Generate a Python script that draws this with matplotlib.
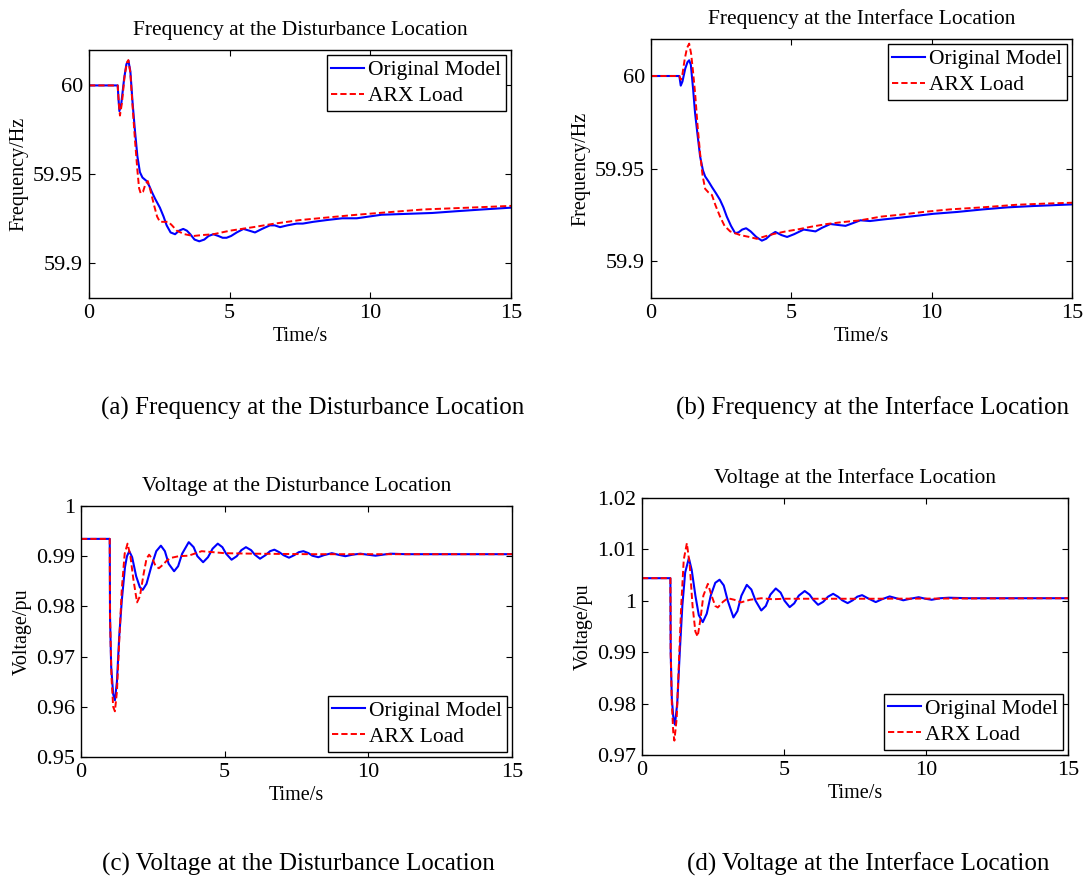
import matplotlib
matplotlib.use("Agg")
import matplotlib.pyplot as plt

plt.rcParams['font.family'] = ['Liberation Serif', 'DejaVu Serif']
plt.rcParams['mathtext.fontset'] = 'stix'

# ---------------- data ----------------
# (a) Frequency at the Disturbance Location
t_a_orig = [0, 1.02, 1.05, 1.08, 1.15, 1.25, 1.33, 1.40, 1.47, 1.55, 1.63, 1.72, 1.81, 1.90,
            2.05, 2.15, 2.23, 2.35, 2.52, 2.65, 2.76, 2.90, 3.06, 3.20, 3.35, 3.48, 3.60, 3.75,
            3.92, 4.10, 4.25, 4.42, 4.60, 4.75, 4.89, 5.05, 5.25, 5.49, 5.70, 5.90, 6.15, 6.43,
            6.60, 6.79, 7.05, 7.38, 7.60, 7.97, 8.45, 9.00, 9.52, 10.4, 11.3, 12.2, 13.07, 14.0, 15.0]
f_a_orig = [60.0, 60.0, 59.992, 59.9855, 59.990, 60.004, 60.012, 60.014, 60.008, 59.990, 59.975,
            59.960, 59.951, 59.948, 59.946, 59.943, 59.940, 59.936, 59.931, 59.926, 59.921, 59.917,
            59.916, 59.918, 59.919, 59.918, 59.916, 59.913, 59.912, 59.913, 59.915, 59.916, 59.915,
            59.914, 59.914, 59.915, 59.917, 59.919, 59.918, 59.917, 59.919, 59.921, 59.921, 59.920,
            59.921, 59.922, 59.922, 59.923, 59.924, 59.925, 59.925, 59.927, 59.9275, 59.928, 59.929,
            59.930, 59.931]
t_a_arx = [0, 1.02, 1.06, 1.10, 1.17, 1.27, 1.35, 1.40, 1.47, 1.55, 1.63, 1.72, 1.78, 1.84, 1.92,
           2.00, 2.09, 2.18, 2.31, 2.42, 2.52, 2.65, 2.82, 2.95, 3.12, 3.40, 3.71, 4.00, 4.42, 5.01,
           5.84, 6.60, 7.50, 8.50, 9.52, 10.7, 11.9, 13.5, 15.0]
f_a_arx = [60.0, 60.0, 59.990, 59.983, 59.990, 60.006, 60.013, 60.0143, 60.007, 59.988, 59.970,
           59.952, 59.942, 59.939, 59.940, 59.944, 59.946, 59.941, 59.9325, 59.926, 59.923, 59.923,
           59.923, 59.921, 59.918, 59.916, 59.915, 59.9155, 59.916, 59.918, 59.920, 59.922, 59.924,
           59.9255, 59.927, 59.9285, 59.930, 59.931, 59.932]

# (b) Frequency at the Interface Location
t_b_orig = [0, 1.01, 1.06, 1.12, 1.22, 1.30, 1.36, 1.42, 1.50, 1.57, 1.66, 1.75, 1.85, 1.93, 2.05,
            2.17, 2.32, 2.46, 2.58, 2.70, 2.85, 3.00, 3.12, 3.25, 3.39, 3.55, 3.75, 3.95, 4.10, 4.25,
            4.43, 4.65, 4.85, 5.10, 5.44, 5.65, 5.86, 6.10, 6.39, 6.65, 6.93, 7.20, 7.46, 7.80, 8.30,
            8.87, 9.50, 10.05, 10.9, 11.83, 12.7, 13.6, 15.0]
f_b_orig = [60.0, 60.0, 59.9948, 59.997, 60.004, 60.0075, 60.0085, 60.006, 59.993, 59.980, 59.968,
            59.9565, 59.949, 59.9457, 59.943, 59.940, 59.9365, 59.933, 59.929, 59.924, 59.919, 59.915,
            59.9155, 59.917, 59.9177, 59.916, 59.913, 59.911, 59.912, 59.914, 59.9157, 59.914, 59.913,
            59.9145, 59.917, 59.9165, 59.916, 59.918, 59.920, 59.9195, 59.919, 59.9205, 59.922,
            59.9216, 59.9225, 59.9234, 59.9245, 59.9255, 59.9265, 59.9279, 59.929, 59.9297, 59.9306]
t_b_arx = [0, 1.01, 1.06, 1.12, 1.20, 1.28, 1.36, 1.43, 1.50, 1.57, 1.66, 1.75, 1.84, 1.93, 2.05,
           2.17, 2.30, 2.46, 2.62, 2.82, 3.00, 3.18, 3.50, 3.77, 4.10, 4.37, 4.80, 5.20, 5.70, 6.27,
           6.80, 7.46, 8.20, 8.87, 9.70, 10.65, 11.8, 13.03, 14.0, 15.0]
f_b_arx = [60.0, 60.0, 59.998, 60.001, 60.009, 60.015, 60.0175, 60.012, 60.002, 59.991, 59.973,
           59.958, 59.946, 59.939, 59.937, 59.9357, 59.930, 59.924, 59.919, 59.916, 59.915, 59.914,
           59.913, 59.912, 59.9135, 59.9146, 59.916, 59.917, 59.9185, 59.920, 59.921, 59.922, 59.924,
           59.925, 59.9265, 59.9279, 59.929, 59.9304, 59.931, 59.9315]

# (c) Voltage at the Disturbance Location
t_c_orig = [0, 1.0, 1.01, 1.05, 1.12, 1.18, 1.25, 1.33, 1.42, 1.53, 1.60, 1.68, 1.78, 1.92, 2.05,
            2.15, 2.28, 2.45, 2.62, 2.78, 2.92, 3.05, 3.24, 3.38, 3.52, 3.75, 3.92, 4.05, 4.25, 4.42,
            4.58, 4.76, 4.92, 5.05, 5.24, 5.42, 5.58, 5.74, 5.92, 6.05, 6.23, 6.42, 6.58, 6.73, 6.90,
            7.05, 7.24, 7.42, 7.58, 7.74, 7.92, 8.05, 8.26, 8.45, 8.73, 8.95, 9.20, 9.45, 9.72, 9.98,
            10.25, 10.5, 10.77, 11.3, 12.0, 13.0, 14.0, 15.0]
v_c_orig = [0.99345, 0.99345, 0.978, 0.968, 0.9625, 0.9613, 0.9650, 0.9740, 0.9812, 0.9878, 0.9900,
            0.9910, 0.9898, 0.9860, 0.9838, 0.9833, 0.9845, 0.9880, 0.9910, 0.9921, 0.9910, 0.9885,
            0.9870, 0.9880, 0.9905, 0.9928, 0.9918, 0.9900, 0.9888, 0.9898, 0.9915, 0.9925, 0.9918,
            0.9905, 0.9893, 0.9900, 0.9912, 0.9918, 0.9912, 0.9903, 0.9895, 0.9902, 0.9910, 0.9913,
            0.9908, 0.9902, 0.9897, 0.9902, 0.9908, 0.9910, 0.9906, 0.9901, 0.9898, 0.9902, 0.9906,
            0.9903, 0.9900, 0.9903, 0.9905, 0.9903, 0.9901, 0.9903, 0.9905, 0.9904, 0.9904, 0.9904,
            0.9904, 0.9904]
t_c_arx = [0, 1.0, 1.01, 1.06, 1.12, 1.18, 1.25, 1.33, 1.42, 1.52, 1.62, 1.72, 1.82, 1.95, 2.05,
           2.18, 2.28, 2.37, 2.50, 2.60, 2.71, 2.85, 3.00, 3.16, 3.40, 3.74, 4.00, 4.20, 4.60, 5.00,
           6.00, 8.00, 15.0]
v_c_arx = [0.99345, 0.99345, 0.978, 0.966, 0.9600, 0.9591, 0.963, 0.973, 0.9835, 0.9905, 0.9925,
           0.9900, 0.9855, 0.9808, 0.9820, 0.9865, 0.9895, 0.9903, 0.9893, 0.9880, 0.9876, 0.9883,
           0.9892, 0.9897, 0.9900, 0.9901, 0.9906, 0.9910, 0.9908, 0.9906, 0.9905, 0.9904, 0.9904]

# (d) Voltage at the Interface Location
t_d_orig = [0, 1.0, 1.01, 1.05, 1.10, 1.16, 1.24, 1.33, 1.42, 1.52, 1.65, 1.75, 1.88, 2.00, 2.14,
            2.28, 2.42, 2.58, 2.73, 2.88, 3.02, 3.22, 3.36, 3.50, 3.69, 3.85, 4.00, 4.20, 4.36, 4.52,
            4.71, 4.88, 5.02, 5.20, 5.36, 5.52, 5.73, 5.90, 6.03, 6.20, 6.38, 6.55, 6.73, 6.90, 7.05,
            7.24, 7.42, 7.58, 7.75, 7.95, 8.23, 8.45, 8.72, 8.95, 9.20, 9.45, 9.74, 9.98, 10.2, 10.5,
            10.8, 11.5, 12.5, 13.5, 15.0]
v_d_orig = [1.0044, 1.0044, 0.990, 0.981, 0.9775, 0.9759, 0.9800, 0.9900, 0.9990, 1.0055, 1.0083,
            1.0060, 1.0010, 0.9972, 0.99585, 0.9975, 1.0010, 1.0035, 1.0041, 1.0030, 1.0000, 0.99676,
            0.9980, 1.0010, 1.0031, 1.0022, 1.0000, 0.99812, 0.9990, 1.0012, 1.0024, 1.0016, 1.0000,
            0.99877, 0.9995, 1.0010, 1.0019, 1.0012, 1.0002, 0.99922, 0.9998, 1.0008, 1.00136, 1.0008,
            1.0001, 0.99955, 1.0001, 1.0008, 1.0011, 1.0005, 0.99975, 1.0003, 1.00085, 1.0005, 1.0001,
            1.0004, 1.0007, 1.0004, 1.0002, 1.0005, 1.0006, 1.0005, 1.0005, 1.0005, 1.0005]
t_d_arx = [0, 1.0, 1.01, 1.05, 1.10, 1.14, 1.22, 1.30, 1.38, 1.47, 1.58, 1.68, 1.78, 1.88, 1.96,
           2.06, 2.16, 2.32, 2.45, 2.58, 2.67, 2.85, 3.02, 3.25, 3.49, 3.80, 4.20, 4.60, 5.00, 6.00,
           8.00, 15.0]
v_d_arx = [1.0044, 1.0044, 0.990, 0.980, 0.9745, 0.9728, 0.9770, 0.9880, 0.9990, 1.0080, 1.0112,
           1.0070, 0.9990, 0.9940, 0.99306, 0.9965, 1.0010, 1.0033, 1.0010, 0.9990, 0.9987, 0.9998,
           1.0005, 1.0002, 0.9997, 1.0002, 1.0005, 1.0003, 1.0004, 1.0004, 1.0004, 1.0005]

x_ticks = [0, 5, 10, 15]
freq_ticks = [59.9, 59.95, 60]
freq_labels = ['59.9', '59.95', '60']
vc_ticks = [0.95, 0.96, 0.97, 0.98, 0.99, 1.0]
vc_labels = ['0.95', '0.96', '0.97', '0.98', '0.99', '1']
vd_ticks = [0.97, 0.98, 0.99, 1.0, 1.01, 1.02]
vd_labels = ['0.97', '0.98', '0.99', '1', '1.01', '1.02']

titles = ['Frequency at the Disturbance Location', 'Frequency at the Interface Location',
          'Voltage at the Disturbance Location', 'Voltage at the Interface Location']
captions = ['(a) Frequency at the Disturbance Location', '(b) Frequency at the Interface Location',
            '(c) Voltage at the Disturbance Location', '(d) Voltage at the Interface Location']
legend_labels = ['Original Model', 'ARX Load']

# ---------------- figure ----------------
W, H = 1085, 882
fig = plt.figure(figsize=(W / 100, H / 100), dpi=100)


def px_axes(l, t, r, b):
    return fig.add_axes([l / W, 1 - b / H, (r - l) / W, (b - t) / H])


panels = [
    dict(box=(89, 50, 511, 298), t1=t_a_orig, y1=f_a_orig, t2=t_a_arx, y2=f_a_arx,
         ylim=(59.88, 60.02), yt=freq_ticks, yl=freq_labels, ylabel='Frequency/Hz', loc='upper right',
         cap=(313, 408)),
    dict(box=(651, 39, 1072, 298), t1=t_b_orig, y1=f_b_orig, t2=t_b_arx, y2=f_b_arx,
         ylim=(59.88, 60.02), yt=freq_ticks, yl=freq_labels, ylabel='Frequency/Hz', loc='upper right',
         cap=(872, 408)),
    dict(box=(81, 506, 512, 757), t1=t_c_orig, y1=v_c_orig, t2=t_c_arx, y2=v_c_arx,
         ylim=(0.95, 1.0), yt=vc_ticks, yl=vc_labels, ylabel='Voltage/pu', loc='lower right',
         cap=(298, 864)),
    dict(box=(642, 498, 1068, 755), t1=t_d_orig, y1=v_d_orig, t2=t_d_arx, y2=v_d_arx,
         ylim=(0.97, 1.02), yt=vd_ticks, yl=vd_labels, ylabel='Voltage/pu', loc='lower right',
         cap=(868, 864)),
]

for i, p in enumerate(panels):
    ax = px_axes(*p['box'])
    ax.plot(p['t1'], p['y1'], color='#0000ff', lw=1.5, label=legend_labels[0])
    ax.plot(p['t2'], p['y2'], color='#ff0000', lw=1.4, ls=(0, (3.2, 1.6)), label=legend_labels[1])
    ax.set_xlim(0, 15)
    ax.set_ylim(*p['ylim'])
    ax.set_xticks(x_ticks)
    ax.set_xticklabels([str(v) for v in x_ticks])
    ax.set_yticks(p['yt'])
    ax.set_yticklabels(p['yl'])
    ax.tick_params(direction='in', top=True, right=True, length=4, width=0.8,
                   labelsize=16, pad=4.5)
    for s in ax.spines.values():
        s.set_linewidth(1.0)
    ax.set_title(titles[i], fontsize=15.5, pad=11)
    ax.set_xlabel('Time/s', fontsize=14.5, labelpad=2.5)
    ax.set_ylabel(p['ylabel'], fontsize=14.5, labelpad=3)
    leg = ax.legend(loc=p['loc'], fontsize=15.5, frameon=True, fancybox=False,
                    edgecolor='black', framealpha=1, borderpad=0.22, labelspacing=0.28,
                    handlelength=1.5, handletextpad=0.2, borderaxespad=0.25)
    leg.get_frame().set_linewidth(1.0)
    fig.text(p['cap'][0] / W, 1 - p['cap'][1] / H, captions[i], fontsize=18,
             ha='center', va='center')

fig.savefig('out.png', dpi=100)
